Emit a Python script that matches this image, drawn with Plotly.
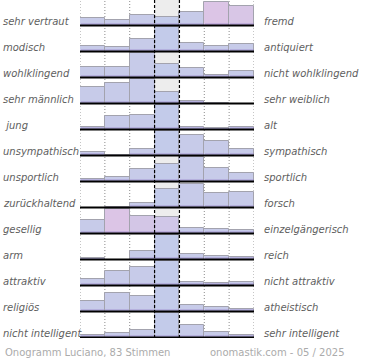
import plotly.graph_objects as go

left_labels = ["sehr vertraut", "modisch", "wohlklingend", "sehr männlich", " jung",
               "unsympathisch", "unsportlich", "zurückhaltend", "gesellig", "arm",
               "attraktiv", "religiös", "nicht intelligent"]
right_labels = ["fremd", "antiquiert", "nicht wohlklingend", "sehr weiblich", "alt",
                "sympathisch", "sportlich", "forsch", "einzelgängerisch", "reich",
                "nicht attraktiv", "atheistisch", "sehr intelligent"]

# relative bar heights per row (0-100), 7 scale steps each
r01 = [31, 24, 43, 36, 55, 98, 80]
r02 = [25, 20, 53, 100, 37, 24, 32]
r03 = [43, 43, 100, 56, 39, 12, 28]
r04 = [69, 83, 99, 49, 11, 5, 0]
r05 = [11, 56, 60, 100, 11, 7, 11]
r06 = [15, 5, 27, 100, 83, 61, 29]
r07 = [13, 19, 51, 73, 100, 57, 35]
r08 = [0, 4, 20, 77, 96, 60, 64]
r09 = [55, 100, 73, 68, 24, 20, 16]
r10 = [8, 0, 36, 100, 24, 15, 11]
r11 = [29, 61, 77, 100, 16, 12, 16]
r12 = [44, 76, 65, 100, 28, 20, 12]
r13 = [13, 20, 32, 100, 53, 24, 13]
rows = [r01, r02, r03, r04, r05, r06, r07, r08, r09, r10, r11, r12, r13]

# bars drawn in pink (row index, column index)
pink_bars = {(0, 5): "#dcc5e6", (0, 6): "#d8c6e6", (8, 1): "#dcc5e6",
             (8, 2): "#d3c6e6", (8, 3): "#d0c7e8"}
footer_left = "Onogramm Luciano, 83 Stimmen"
footer_right = "onomastik.com - 05 / 2025"

ROW = 104
n = len(rows)
xs = [0.5 + k for k in range(7)]

fig = go.Figure()
shapes = []
annotations = []

# centre column background
shapes.append(dict(type="rect", xref="x", yref="y", x0=3, x1=4, y0=0, y1=n * ROW,
                   fillcolor="#ededed", line=dict(width=0), layer="below"))
for gx in [0, 1, 2, 5, 6, 7]:
    shapes.append(dict(type="line", xref="x", yref="y", x0=gx, x1=gx, y0=0, y1=n * ROW,
                       line=dict(color="#8c8c8c", width=1, dash="1px,2px"), layer="below"))

for i, vals in enumerate(rows):
    base = (n - 1 - i) * ROW
    colors = []
    for k in range(7):
        if (i, k) in pink_bars:
            colors.append(pink_bars[(i, k)])
        elif k == 3:
            colors.append("#c3cbea")
        else:
            colors.append("#c7cbe9")
    fig.add_trace(go.Bar(x=xs, y=vals, base=[base] * 7, width=1,
                         marker=dict(color=colors, line=dict(color="#a3a3ae", width=1)),
                         hoverinfo="skip", showlegend=False))
    shade = [min(v, 14) for v in vals]
    fig.add_trace(go.Bar(x=xs, y=shade, base=[base] * 7, width=0.96,
                         marker=dict(color="rgba(150,125,200,0.35)", line=dict(width=0)),
                         hoverinfo="skip", showlegend=False))
    shapes.append(dict(type="line", xref="x", yref="y", x0=0, x1=7, y0=base + 2, y1=base + 2,
                       line=dict(color="#000000", width=2), layer="above"))
    annotations.append(dict(xref="paper", yref="y", x=-79.0 / 175, y=base + 20,
                            text=left_labels[i], showarrow=False, xanchor="left",
                            yanchor="middle",
                            font=dict(family="DejaVu Sans", size=10, color="#5e5e5e", style="italic")))
    annotations.append(dict(xref="paper", yref="y", x=(263 - 79.5) / 175, y=base + 20,
                            text=right_labels[i], showarrow=False, xanchor="left",
                            yanchor="middle",
                            font=dict(family="DejaVu Sans", size=10, color="#5e5e5e", style="italic")))

for gx in [3, 4]:
    shapes.append(dict(type="line", xref="x", yref="y", x0=gx, x1=gx, y0=0, y1=n * ROW,
                       line=dict(color="#000000", width=1.2, dash="3px,2px"), layer="above"))

annotations.append(dict(xref="paper", yref="paper", x=-77.5 / 175, y=-14.0 / 338,
                        text=footer_left, showarrow=False, xanchor="left", yanchor="middle",
                        font=dict(family="DejaVu Sans", size=10, color="#ababab")))
annotations.append(dict(xref="paper", yref="paper", x=(348 - 79.5) / 175, y=-14.0 / 338,
                        text=footer_right, showarrow=False, xanchor="right", yanchor="middle",
                        font=dict(family="DejaVu Sans", size=10, color="#ababab")))

fig.update_layout(
    width=370, height=360,
    margin=dict(l=79.5, r=115.5, t=0, b=22, pad=0),
    paper_bgcolor="white", plot_bgcolor="white",
    barmode="overlay", bargap=0,
    shapes=shapes, annotations=annotations,
    xaxis=dict(range=[0, 7], showgrid=False, zeroline=False, showticklabels=False,
               fixedrange=True),
    yaxis=dict(range=[0, n * ROW], showgrid=False, zeroline=False, showticklabels=False,
               fixedrange=True),
)
fig.write_html("out.html", config={"displayModeBar": False},
               post_script="document.body.style.margin='0';document.body.style.overflow='hidden';")
